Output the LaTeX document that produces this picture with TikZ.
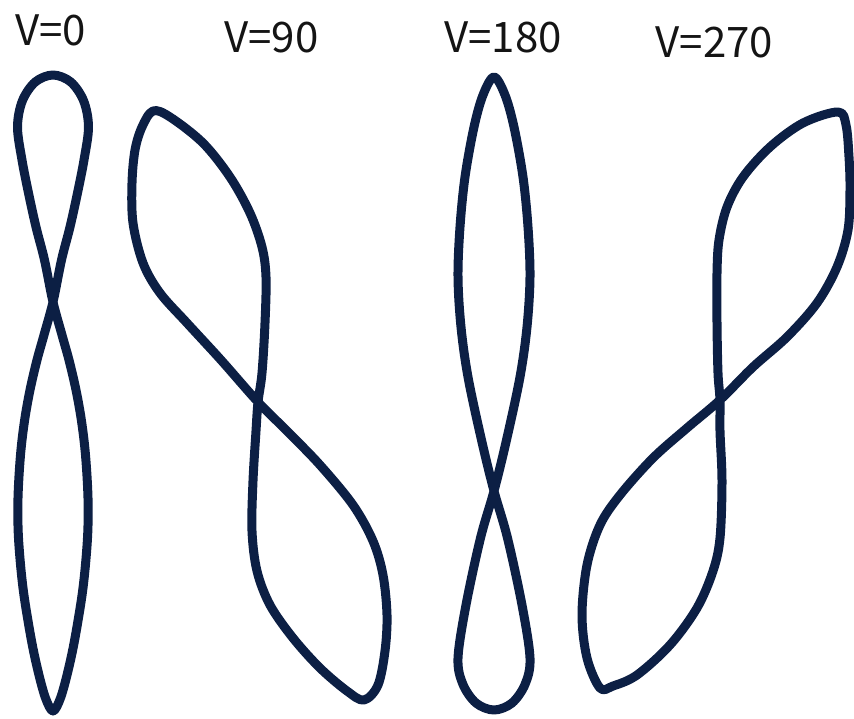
\documentclass[tikz,border=0pt]{standalone}
\usepackage{fontspec}
\newfontfamily\labfont{Noto Sans CJK JP}
\definecolor{curvecol}{RGB}{12,31,68}
\definecolor{labcol}{RGB}{20,20,20}
\begin{document}
\begin{tikzpicture}[x=1pt,y=-1pt,
  curve/.style={draw=curvecol,line width=9pt,line join=round,smooth cycle,tension=0.55},
  lab/.style={inner sep=0pt,text=labcol,font=\labfont\fontsize{42}{42}\selectfont}]
\useasboundingbox (0,0) rectangle (854,718);
% labels
\node[lab] (l0)   at (50.5,30.5) {V=0};
\node[lab] (l90)  at (271.5,37) {V=90};
\node[lab] (l180) at (503,37.5) {V=180};
\node[lab] (l270) at (714.5,42) {V=270};
% V=0
\draw[curve] plot coordinates {
 (53,75) (70.8,82) (83.7,101) (88.5,127) (84,160) (77.5,193) (70,227) (61.5,260) (53,302)
 (44,335) (37,360) (30,390) (24.5,421) (20.5,455) (18,498) (18.5,538) (23,588) (31,638) (38,671) (45.5,698)
 (53,711)
 (60.5,698) (68,671) (75,638) (83,588) (87.5,538) (88,498) (85.5,455) (81.5,421) (76,390) (69,360) (62,335)
 (53,302) (44.5,260) (36,227) (28.5,193) (22,160) (17.5,127) (22.3,101) (35.2,82)};
% V=90
\draw[curve] plot coordinates {
 (153,111) (170,117) (203,143) (230,177) (250,213) (262,247) (266,277) (265,323) (262,373)
 (258,402) (256,431) (253,481) (252,531) (257,571) (270,605) (293,638) (320,668) (347,691)
 (364,700) (378,685) (385,651) (387,615) (383,575) (373,541) (353,505) (320,465) (287,431)
 (258,402) (221,360) (187,323) (160,293) (143,263) (133,223) (132,183) (135,150) (142,127)};
% V=180
\draw[curve] plot coordinates {
 (494,77) (505,95) (514,127) (523,177) (528,227) (530,277) (527,327) (520,377) (506.5,440)
 (494,491) (480.5,538) (466,605) (458,658) (462.8,684) (476,703)
 (494,710)
 (512,703) (525.2,684) (530,658) (522,605) (507.5,538)
 (494,491) (481.5,440) (468,377) (461,327) (458,277) (460,227) (465,177) (474,127) (483,95)};
% V=270
\draw[curve] plot coordinates {
 (838,112) (803,123) (770,147) (743,177) (727,207) (719,240) (717,273) (717,323) (718,373)
 (720,400) (720,431) (722,481) (720,538) (713,571) (697,608) (670,645) (637,675) (613,686)
 (600,688) (587,658) (582,615) (587,565) (600,525) (620,495) (653,458) (687,428)
 (720,400) (753,367) (787,337) (817,303) (837,267) (848,230) (850,190) (849,157) (846,125)};
\end{tikzpicture}
\end{document}
